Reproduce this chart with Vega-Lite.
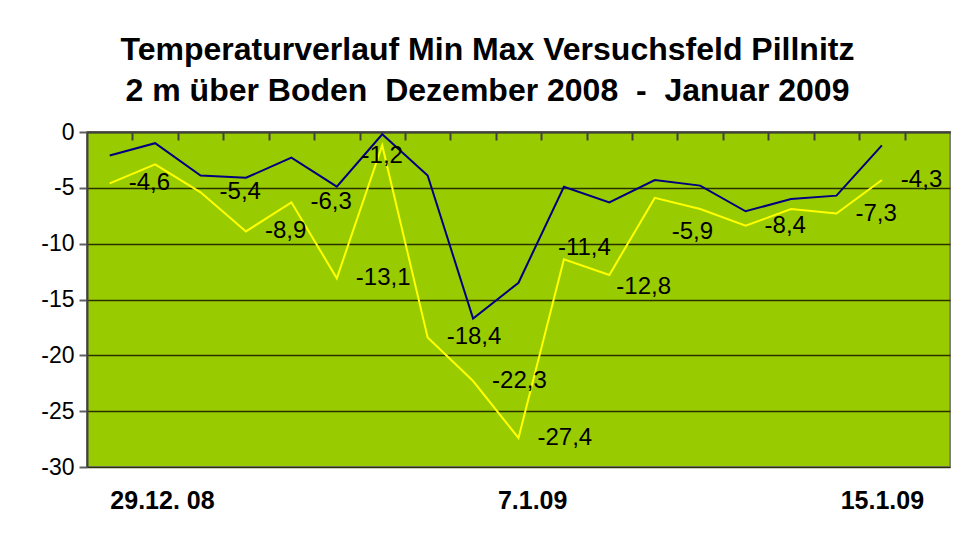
{
  "$schema": "https://vega.github.io/schema/vega-lite/v6.json",
  "width": 863,
  "height": 335,
  "autosize": {"type": "none"},
  "padding": {"left": 87, "top": 132, "right": 8, "bottom": 85},
  "background": "white",
  "title": {
    "text": ["Temperaturverlauf Min Max Versuchsfeld Pillnitz", "2 m über Boden \u00a0Dezember 2008 \u00a0- \u00a0Januar 2009"],
    "anchor": "middle",
    "dx": -31,
    "offset": 13,
    "font": "Liberation Sans",
    "fontSize": 32,
    "fontWeight": "bold",
    "lineHeight": 41,
    "color": "black"
  },
  "data": {
    "values": [
      {"i": 0, "datum": "29.12.2008", "max": -2.1, "min": -4.6},
      {"i": 1, "datum": "30.12.2008", "max": -1.0, "min": -2.9},
      {"i": 2, "datum": "31.12.2008", "max": -3.9, "min": -5.4},
      {"i": 3, "datum": "1.1.2009", "max": -4.1, "min": -8.9},
      {"i": 4, "datum": "2.1.2009", "max": -2.3, "min": -6.3},
      {"i": 5, "datum": "3.1.2009", "max": -4.9, "min": -13.1},
      {"i": 6, "datum": "4.1.2009", "max": -0.2, "min": -1.2},
      {"i": 7, "datum": "5.1.2009", "max": -3.9, "min": -18.4},
      {"i": 8, "datum": "6.1.2009", "max": -16.7, "min": -22.3},
      {"i": 9, "datum": "7.1.2009", "max": -13.5, "min": -27.4},
      {"i": 10, "datum": "8.1.2009", "max": -4.9, "min": -11.4},
      {"i": 11, "datum": "9.1.2009", "max": -6.3, "min": -12.8},
      {"i": 12, "datum": "10.1.2009", "max": -4.3, "min": -5.9},
      {"i": 13, "datum": "11.1.2009", "max": -4.8, "min": -6.9},
      {"i": 14, "datum": "12.1.2009", "max": -7.1, "min": -8.4},
      {"i": 15, "datum": "13.1.2009", "max": -6.0, "min": -6.9},
      {"i": 16, "datum": "14.1.2009", "max": -5.7, "min": -7.3},
      {"i": 17, "datum": "15.1.2009", "max": -1.2, "min": -4.3}
    ]
  },
  "layer": [
    {
      "mark": {"type": "line", "color": "#000080", "strokeWidth": 2},
      "encoding": {
        "x": {
          "field": "i", "type": "quantitative",
          "scale": {"domain": [-0.5, 18.5], "nice": false, "zero": false},
          "axis": {
            "orient": "top", "title": null, "labels": false, "grid": false, "domain": false,
            "values": [0.5, 1.5, 2.5, 3.5, 4.5, 5.5, 6.5, 7.5, 8.5, 9.5, 10.5, 11.5, 12.5, 13.5, 14.5, 15.5, 16.5, 17.5],
            "offset": -8, "tickSize": 8, "tickColor": "#404040", "tickWidth": 2
          }
        },
        "y": {
          "field": "max", "type": "quantitative",
          "scale": {"domain": [-30, 0], "nice": false},
          "axis": {
            "title": null, "values": [0, -5, -10, -15, -20, -25, -30], "format": "d",
            "labelFont": "Liberation Sans", "labelFontSize": 23, "labelColor": "black",
            "tickSize": 8, "tickColor": "#606060", "tickWidth": 2, "labelPadding": 5,
            "domainColor": "#404040", "domainWidth": 2,
            "grid": true, "gridColor": "#2a3300", "gridWidth": 1.5, "gridOpacity": 1
          }
        }
      }
    },
    {
      "mark": {"type": "line", "color": "#FFFF00", "strokeWidth": 2},
      "encoding": {
        "x": {
          "field": "i", "type": "quantitative",
          "axis": {
            "orient": "bottom", "title": null, "grid": false, "domain": false, "ticks": false,
            "values": [1.15, 9.3, 17],
            "labelExpr": "datum.value < 5 ? '29.12. 08' : datum.value < 12 ? '7.1.09' : '15.1.09'",
            "labelFont": "Liberation Sans", "labelFontSize": 25, "labelFontWeight": "bold",
            "labelColor": "black", "labelPadding": 21
          }
        },
        "y": {"field": "min", "type": "quantitative"}
      }
    },
    {
      "transform": [{"filter": {"field": "i", "oneOf": [0, 2, 3, 4, 5, 7, 8, 9, 14, 16, 17]}}],
      "mark": {"type": "text", "align": "left", "baseline": "middle", "dx": 19, "font": "Liberation Sans", "fontSize": 24, "color": "black"},
      "encoding": {
        "x": {
          "field": "i", "type": "quantitative",
          "axis": {"orient": "top", "title": null, "labels": false, "ticks": false, "grid": false, "domainColor": "#404040", "domainWidth": 2}
        },
        "y": {"field": "min", "type": "quantitative"},
        "text": {"field": "min", "type": "quantitative", "format": ".1f"}
      }
    },
    {
      "transform": [{"filter": {"field": "i", "oneOf": [6]}}],
      "mark": {"type": "text", "align": "center", "baseline": "middle", "dy": 11, "font": "Liberation Sans", "fontSize": 24, "color": "black"},
      "encoding": {
        "x": {"field": "i", "type": "quantitative", "axis": null},
        "y": {"field": "min", "type": "quantitative"},
        "text": {"field": "min", "type": "quantitative", "format": ".1f"}
      }
    },
    {
      "transform": [{"filter": {"field": "i", "oneOf": [10]}}],
      "mark": {"type": "text", "align": "left", "baseline": "middle", "dx": -6, "dy": -11, "font": "Liberation Sans", "fontSize": 24, "color": "black"},
      "encoding": {
        "x": {"field": "i", "type": "quantitative", "axis": null},
        "y": {"field": "min", "type": "quantitative"},
        "text": {"field": "min", "type": "quantitative", "format": ".1f"}
      }
    },
    {
      "transform": [{"filter": {"field": "i", "oneOf": [11]}}],
      "mark": {"type": "text", "align": "left", "baseline": "middle", "dx": 7, "dy": 12, "font": "Liberation Sans", "fontSize": 24, "color": "black"},
      "encoding": {
        "x": {"field": "i", "type": "quantitative", "axis": null},
        "y": {"field": "min", "type": "quantitative"},
        "text": {"field": "min", "type": "quantitative", "format": ".1f"}
      }
    },
    {
      "transform": [{"filter": {"field": "i", "oneOf": [12]}}],
      "mark": {"type": "text", "align": "left", "baseline": "middle", "dx": 17, "dy": 34, "font": "Liberation Sans", "fontSize": 24, "color": "black"},
      "encoding": {
        "x": {"field": "i", "type": "quantitative", "axis": null},
        "y": {"field": "min", "type": "quantitative"},
        "text": {"field": "min", "type": "quantitative", "format": ".1f"}
      }
    }
  ],
  "resolve": {"axis": {"x": "independent"}},
  "config": {
    "locale": {"number": {"decimal": ",", "thousands": ".", "grouping": [3], "currency": ["", " €"], "minus": "-"}},
    "view": {"fill": "#99CC00", "stroke": "#808080", "strokeWidth": 2},
    "font": "Liberation Sans"
  }
}
